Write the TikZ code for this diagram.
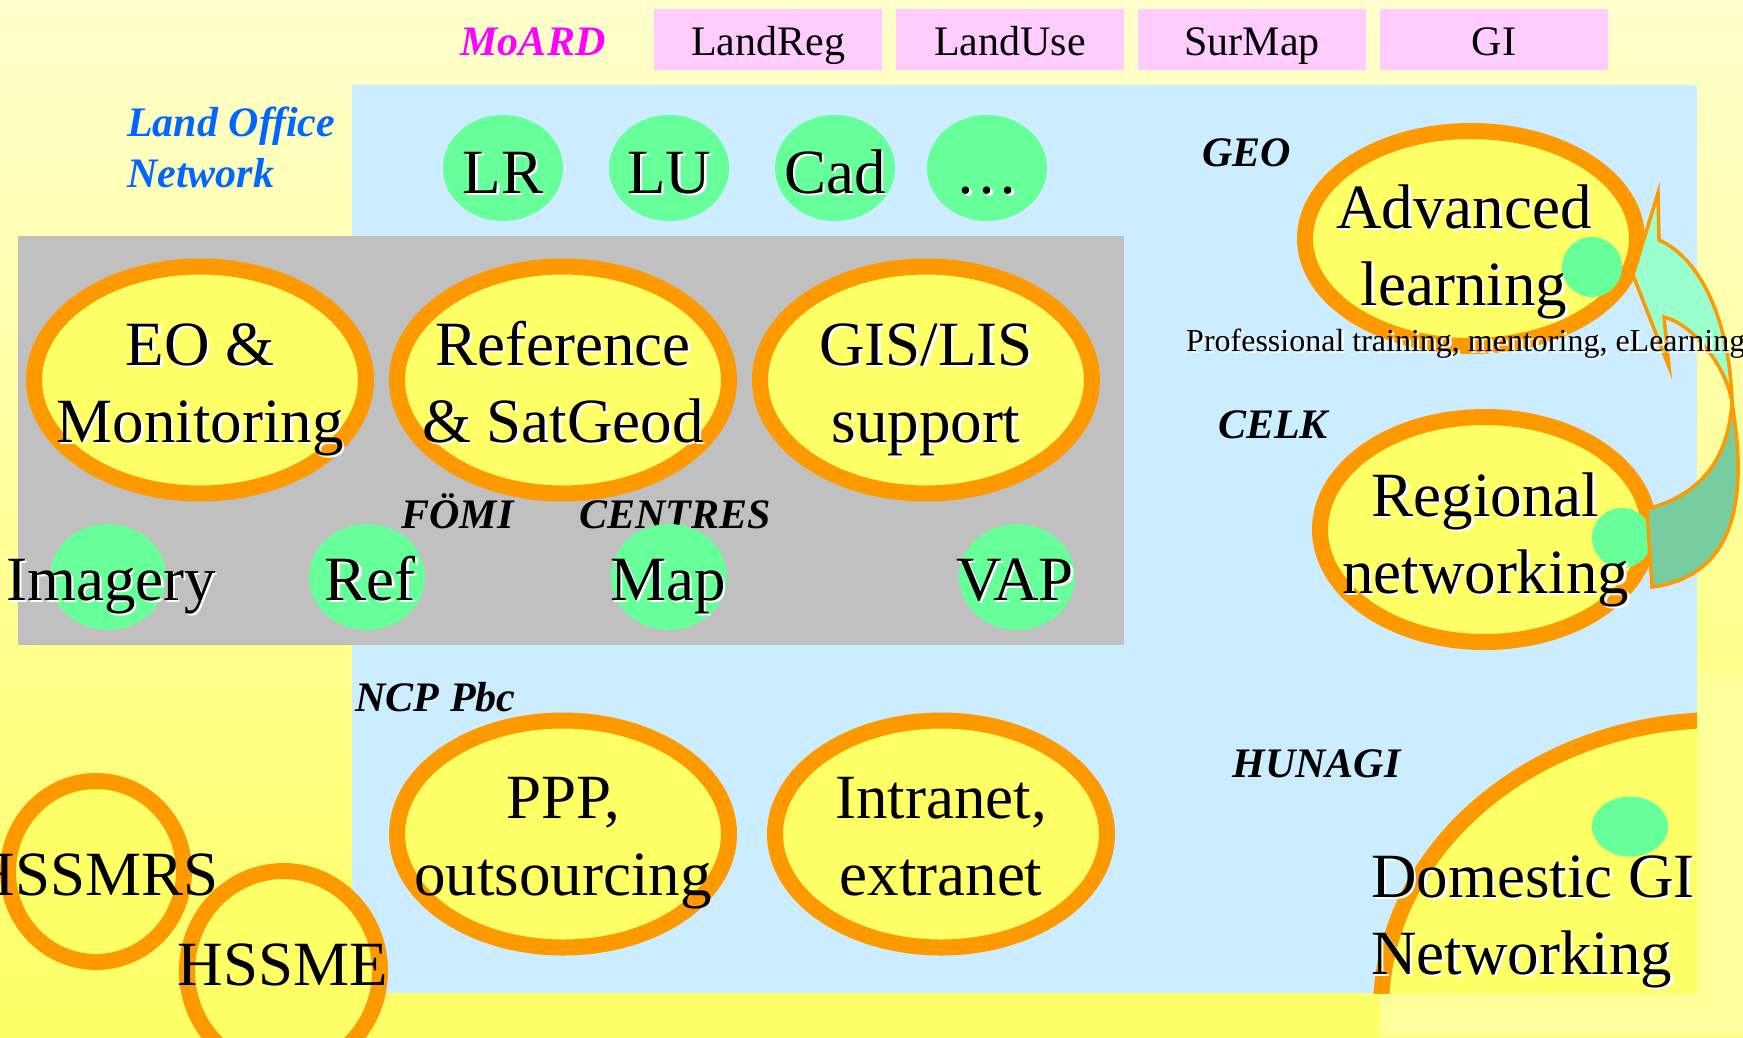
\documentclass[tikz,border=0pt]{standalone}
\usepackage{fontspec}
\setmainfont{Liberation Serif}
\usetikzlibrary{shapes.geometric}
\definecolor{bgtop}{HTML}{FFFFCC}
\definecolor{bgbot}{HTML}{FFFF66}
\definecolor{paleC}{HTML}{FFFF99}
\definecolor{pinkC}{HTML}{FFCCFF}
\definecolor{blueC}{HTML}{CCECFF}
\definecolor{greyC}{HTML}{C0C0C0}
\definecolor{greenC}{HTML}{66FF99}
\definecolor{yelC}{HTML}{FFFF66}
\definecolor{orC}{HTML}{FF9900}
\definecolor{lonC}{HTML}{0066FF}
\definecolor{magC}{HTML}{FF00FF}
\definecolor{arrLight}{HTML}{99FFCC}
\definecolor{arrDark}{HTML}{77CCA0}
\newcommand\sh[1]{\rlap{\kern2.5pt\raisebox{-2.5pt}{\color{white}#1}}#1}
\newcommand\twoc[2]{\vtop{\halign{\hfil##\hfil\cr#1\cr#2\cr}}}
\newcommand\twol[2]{\vtop{\halign{##\hfil\cr#1\cr#2\cr}}}
\begin{document}
\begin{tikzpicture}[x=1pt,y=-1pt,
  pinkbox/.style={fill=pinkC, minimum width=228pt, minimum height=61pt, inner sep=0pt,
    text height=31pt, text depth=0pt, font=\fontsize{42}{50}\selectfont},
  lab/.style={font=\fontsize{42}{51}\selectfont\bfseries\itshape, inner sep=0pt, anchor=base},
  big/.style={font=\fontsize{63}{77}\selectfont, inner sep=0pt, anchor=base},
  dot/.style={ellipse, fill=greenC, draw=none, inner sep=0pt},
  ring/.style={ellipse, draw=orC, line width=16pt, fill=yelC, inner sep=0pt},
  bigring/.style={ring, minimum width=332pt, minimum height=227pt},
  arrowpart/.style={draw=orC, line width=3.5pt, line join=miter}
]
\useasboundingbox (0,0) rectangle (1743,1037);
% background
\shade[top color=bgtop, bottom color=bgbot] (0,0) rectangle (1743,1037);
\fill[paleC] (1380,675) rectangle (1743,1037);

% ministry row
\node[lab, text=magC] (moard) at (533,55) {MoARD};
\node[pinkbox] (landreg) at (768,39.5) {LandReg};
\node[pinkbox] (landuse) at (1010,39.5) {LandUse};
\node[pinkbox] (surmap) at (1252,39.5) {SurMap};
\node[pinkbox] (gi) at (1494,39.5) {GI};

% blue area
\fill[blueC] (352,85) rectangle (1697,993);
\node[lab, text=lonC, anchor=base west] (lon) at (127,136) {\twol{Land Office}{Network}};

% land office circles
\node[dot, minimum width=120pt, minimum height=106pt] (lr) at (503,168) {};
\node[dot, minimum width=120pt, minimum height=106pt] (lu) at (669,168) {};
\node[dot, minimum width=120pt, minimum height=106pt] (cad) at (835,168) {};
\node[dot, minimum width=120pt, minimum height=106pt] (etc) at (987,168) {};
\node[big] (lrT) at (503,193) {\sh{LR}};
\node[big] (luT) at (669,193) {\sh{LU}};
\node[big] (cadT) at (835,193) {\sh{Cad}};
\node[big] (etcT) at (987,193) {\sh{…}};

% FOMI grey box
\fill[greyC] (18,236) rectangle (1124,645);
\node[bigring] (eo) at (200,380) {};
\node[bigring] (ref) at (563,380) {};
\node[bigring] (gis) at (926,380) {};
\node[big] (eoT) at (200,365) {\twoc{\sh{EO \&}}{\sh{Monitoring}}};
\node[big] (refT) at (563,365) {\twoc{\sh{Reference}}{\sh{\& SatGeod}}};
\node[big] (gisT) at (926,365) {\twoc{\sh{GIS/LIS}}{\sh{support}}};
\node[lab] (fomi) at (457.5,528) {FÖMI};
\node[lab] (centres) at (675,528) {CENTRES};
\node[dot, minimum width=116pt, minimum height=106pt] (img) at (108,577) {};
\node[dot, minimum width=116pt, minimum height=106pt] (refd) at (367,577) {};
\node[dot, minimum width=116pt, minimum height=106pt] (map) at (669,577) {};
\node[dot, minimum width=116pt, minimum height=106pt] (vap) at (1017,577) {};
\node[big] (imgT) at (111,600) {\sh{Imagery}};
\node[big] (refdT) at (370,600) {\sh{Ref}};
\node[big] (mapT) at (668,600) {\sh{Map}};
\node[big] (vapT) at (1015,600) {\sh{VAP}};

% GEO / CELK
\node[lab] (geo) at (1246.5,166) {GEO};
\node[ring, minimum width=332pt, minimum height=215pt] (adv) at (1471,238.5) {};
\node[big] (advT) at (1464,228) {\twoc{\sh{Advanced}}{\sh{learning}}};
\node[dot, minimum width=60pt, minimum height=60pt] (advd) at (1592,267) {};
\node[lab] (celk) at (1273,438) {CELK};
\node[ring, minimum width=329pt, minimum height=225pt] (reg) at (1484.5,529.5) {};
\node[dot, minimum width=60pt, minimum height=60pt] (regd) at (1622,538) {};
\node[big] (regT) at (1485.5,516) {\twoc{\sh{Regional}}{\sh{networking}}};

% curved block arrow from Regional networking up to Advanced learning
\filldraw[arrowpart, fill=arrDark] (1732,403) .. controls (1745,480) and (1745,575) .. (1652,587)
  -- (1647,509) .. controls (1700,495) and (1728,460) .. (1732,403) -- cycle;
\filldraw[arrowpart, fill=arrLight] (1633,275) -- (1658,193) -- (1659,240)
  .. controls (1700,258) and (1730,320) .. (1732,403)
  .. controls (1728,370) and (1695,325) .. (1664,317) -- (1669,367) -- cycle;
\node[font=\fontsize{32}{38}\selectfont, inner sep=0pt, anchor=base west] (prof) at (1186,351)
  {\sh{Professional training, mentoring, eLearning}};

% NCP Pbc
\node[lab] (ncp) at (435.5,711) {NCP Pbc};
\node[bigring] (ppp) at (563,834) {};
\node[bigring] (intra) at (941,834) {};
\node[big] (pppT) at (563,818) {\twoc{PPP,}{outsourcing}};
\node[big] (intraT) at (941,818) {\twoc{Intranet,}{extranet}};

% HUNAGI
\node[lab] (hunagi) at (1316.5,777) {HUNAGI};
\begin{scope}
  \clip (352,85) rectangle (1697,993);
  \node[ring, minimum width=678pt, minimum height=580pt] (dom) at (1720,1010) {};
\end{scope}
\node[dot, minimum width=76pt, minimum height=60pt] (domd) at (1630,826.5) {};
\node[big, anchor=base west] (domT) at (1371,897) {\twol{\sh{Domestic GI}}{\sh{Networking}}};

% HSS circles
\node[ring, minimum width=176pt, minimum height=181pt] (hssmrs) at (96,871.5) {};
\node[ring, minimum width=193pt, minimum height=200pt] (hssme) at (283.5,971) {};
\node[big] (hssmrsT) at (94,895) {HSSMRS};
\node[big] (hssmeT) at (283,985) {HSSME};
\end{tikzpicture}
\end{document}
